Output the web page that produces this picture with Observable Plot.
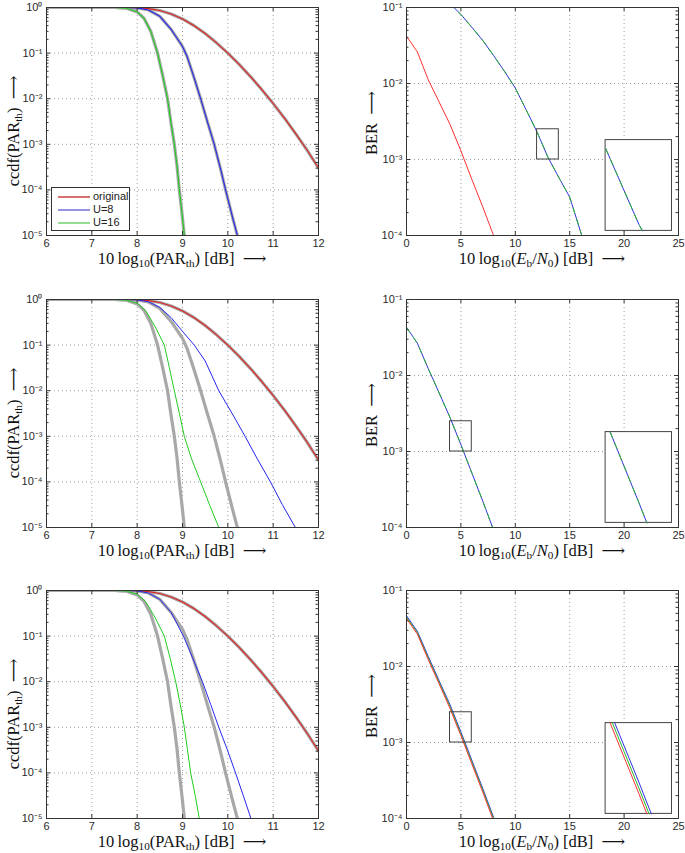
<!DOCTYPE html>
<html><head><meta charset="utf-8">
<script src="https://cdn.jsdelivr.net/npm/d3@7"></script>
<script src="https://cdn.jsdelivr.net/npm/@observablehq/plot@0.6"></script>
<style>
body{margin:0;background:#fff;}
#root{position:relative;width:685px;height:853px;overflow:hidden;background:#fff;}
.panel{position:absolute;}
.lbl{position:absolute;font-family:"Liberation Serif","DejaVu Serif",serif;font-size:16.5px;color:#111;white-space:nowrap;line-height:1;}
.xl{transform:translate(-50%,-50%);}
.yl{transform:translate(-50%,-50%) rotate(-90deg);}
.lbl sub{font-size:68%;vertical-align:-0.25em;line-height:0;}
.legend{position:absolute;background:#fff;border:1px solid #333;font-family:"Liberation Sans",Arial,sans-serif;font-size:11px;color:#222;}
.legend .sw{position:absolute;height:2px;width:32px;}
.legend .tx{position:absolute;line-height:1;}
</style>
</head><body><div id="root"></div>
<script>
// ---------- tick values / labels ----------
const xTicksL = [6, 7, 8, 9, 10, 11, 12];
const yTicksL = [1, 1e-1, 1e-2, 1e-3, 1e-4, 1e-5];
const yLabelsL = ["10⁰", "10⁻¹", "10⁻²", "10⁻³", "10⁻⁴", "10⁻⁵"];
const xTicksR = [0, 5, 10, 15, 20, 25];
const yTicksR = [1e-1, 1e-2, 1e-3, 1e-4];
const yLabelsR = ["10⁻¹", "10⁻²", "10⁻³", "10⁻⁴"];
const legendNames = ["original", "U=8", "U=16"];

// ---------- ccdf curves (left column) ----------
const origX = [6, 6.5, 7, 7.5, 7.75, 8, 8.25, 8.5, 8.75, 9, 9.25, 9.5, 9.75, 10, 10.25, 10.5, 10.75, 11, 11.25, 11.5, 11.75, 12];
const origY = [1, 1, 1, 0.9998, 0.9975, 0.985, 0.946, 0.859, 0.723, 0.562, 0.403, 0.269, 0.168, 0.100, 0.0568, 0.0306, 0.0158, 0.00786, 0.00374, 0.00169, 0.00074, 0.000303];

const u8X = [6, 7, 7.5, 7.75, 8, 8.25, 8.5, 8.75, 9, 9.1, 9.25, 9.4, 9.55, 9.7, 9.85, 9.95, 10.1, 10.21, 10.3];
const u8Y = [1, 1, 1, 0.998, 0.98, 0.88, 0.64, 0.33, 0.14, 0.085, 0.03, 0.01, 0.0031, 0.001, 0.00026, 0.0001, 2.6e-5, 1e-5, 4e-6];

const u16X = [6, 7, 7.5, 7.75, 8, 8.15, 8.3, 8.45, 8.56, 8.67, 8.75, 8.82, 8.88, 8.93, 8.99, 9.04, 9.08];
const u16Y = [1, 1, 0.999, 0.97, 0.8, 0.58, 0.3, 0.1, 0.033, 0.01, 0.0028, 0.001, 0.00033, 0.0001, 3e-5, 1e-5, 4e-6];

const mid16X = [6, 7, 7.5, 7.75, 8, 8.2, 8.4, 8.6, 8.71, 8.82, 8.93, 9.04, 9.2, 9.4, 9.6, 9.8, 9.9];
const mid16Y = [1, 1, 0.999, 0.975, 0.83, 0.55, 0.25, 0.1, 0.032, 0.01, 0.0032, 0.001, 0.00032, 0.0001, 3.1e-5, 1e-5, 5.5e-6];

const mid8X = [6, 7, 7.5, 7.75, 8, 8.25, 8.5, 8.75, 9, 9.26, 9.5, 9.8, 10.1, 10.38, 10.65, 10.94, 11.2, 11.49, 11.6];
const mid8Y = [1, 1, 1, 0.998, 0.98, 0.89, 0.67, 0.4, 0.2, 0.1, 0.045, 0.01, 0.0031, 0.001, 0.00032, 0.0001, 3.2e-5, 1e-5, 6e-6];

const bot16X = [6, 7, 7.5, 7.75, 8, 8.2, 8.4, 8.6, 8.73, 8.85, 8.95, 9.04, 9.11, 9.18, 9.28, 9.37, 9.42];
const bot16Y = [1, 1, 0.999, 0.975, 0.83, 0.55, 0.25, 0.1, 0.032, 0.01, 0.0032, 0.001, 0.00032, 0.0001, 3.2e-5, 1e-5, 5e-6];

const bot8X = [6, 7, 7.5, 7.75, 8, 8.25, 8.5, 8.75, 9.02, 9.23, 9.44, 9.62, 9.8, 9.99, 10.17, 10.34, 10.51, 10.6];
const bot8Y = [1, 1, 1, 0.998, 0.98, 0.88, 0.64, 0.33, 0.1, 0.032, 0.01, 0.0032, 0.001, 0.00032, 0.0001, 3.2e-5, 1e-5, 5e-6];

// ---------- BER curves (right column) ----------
const berX = [0, 1, 2, 3, 4, 5, 6, 7, 8];
const berTopRed = [0.042, 0.026, 0.0112, 0.0057, 0.0029, 0.0013, 0.00055, 0.00024, 0.0001];
const berTopX = [4, 5, 6, 7, 8, 9, 10, 11, 12, 13, 14, 15, 16, 17];
const berTopClip = [0.112, 0.081, 0.055, 0.037, 0.0234, 0.0145, 0.0087, 0.0045, 0.0023, 0.00107, 0.00058, 0.00032, 0.000112, 0.00004];
const berMid = [0.043, 0.0266, 0.0123, 0.0059, 0.0028, 0.00123, 0.000525, 0.000224, 0.000093];
const berBotRed = [0.043, 0.0266, 0.0123, 0.0059, 0.0028, 0.00123, 0.000525, 0.000224, 0.000093];
const berBotGreen = [0.0447, 0.0278, 0.0129, 0.0062, 0.00297, 0.0013, 0.000556, 0.000237, 0.000099];
const berBotBlue = [0.0465, 0.029, 0.0136, 0.0065, 0.00314, 0.00138, 0.000588, 0.00025, 0.000104];

// zoom regions (data bounds) and inset box (data bounds)
const zoomBoxTop = {x1: 12, x2: 14, y1: 1e-3, y2: 2.5e-3};
const zoomBoxMid = {x1: 4, x2: 6, y1: 1e-3, y2: 2.5e-3};
const insetBox = {x1: 18.3, x2: 24.4, y1: 1.15e-4, y2: 1.8e-3};

// ---------- styling ----------
const C = {red: "#dd2222", blue: "#2626ee", green: "#22cc22", gray: "#a8a8a8",
           rRed: "#ff3030", rBlue: "#3030e8", rGreen: "#28b828"};
const PW = 272, PH = 228;
const svgTops = [0, 292, 583];

const pts = (xs, ys) => xs.map((x, i) => ({x, y: ys[i]}));

function minorTicks(domain) {
  return d3.scaleLog().domain(domain).ticks().filter(v => Math.abs(Math.log10(v) - Math.round(Math.log10(v))) > 1e-6);
}

function gridAndTicks(xTicks, yMajor, yDomain) {
  const g = {stroke: "#9c9c9c", strokeDasharray: "1,3", strokeWidth: 1};
  const t = {stroke: "#333", strokeWidth: 1};
  const yMinor = minorTicks(yDomain);
  return {
    grid: [
      Plot.ruleX(xTicks.slice(1, -1), {x: d => d, ...g}),
      Plot.ruleY(yMajor.filter(v => v !== yDomain[0] && v !== yDomain[1]), {y: d => d, ...g})
    ],
    ticks: [
      Plot.ruleX(xTicks, {x: d => d, insetTop: PH - 4, ...t}),
      Plot.ruleX(xTicks, {x: d => d, insetBottom: PH - 4, ...t}),
      Plot.ruleY(yMajor, {y: d => d, insetRight: PW - 4, ...t}),
      Plot.ruleY(yMajor, {y: d => d, insetLeft: PW - 4, ...t}),
      Plot.ruleY(yMinor, {y: d => d, insetRight: PW - 2.5, ...t}),
      Plot.ruleY(yMinor, {y: d => d, insetLeft: PW - 2.5, ...t})
    ]
  };
}

const baseStyle = {fontFamily: "'Liberation Sans', Arial, sans-serif", fontSize: "11px", color: "#2a2a2a", background: "transparent", overflow: "visible"};

function lineMarks(lines) {
  return lines.map(l => Plot.line(l.data, {x: "x", y: "y", stroke: l.c, strokeWidth: l.w, strokeDasharray: l.dash, clip: true}));
}

function leftPanel(lines) {
  const yDomain = [1e-5, 1];
  const gt = gridAndTicks(xTicksL, yTicksL, yDomain);
  return Plot.plot({
    width: 340, height: 292, marginTop: 7, marginBottom: 57, marginLeft: 46, marginRight: 22,
    style: baseStyle,
    x: {domain: [6, 12], ticks: xTicksL, tickSize: 0, tickPadding: 4, label: null, tickFormat: d => String(d)},
    y: {type: "log", domain: yDomain, ticks: yTicksL, tickSize: 0, tickPadding: 4, label: null,
        tickFormat: d => yLabelsL[yTicksL.indexOf(d)]},
    marks: [...gt.grid, ...lineMarks(lines), Plot.frame({stroke: "#333"}), ...gt.ticks]
  });
}

// clip a curve to a zoom region and map it into the inset box (x linear, y log)
function insetCurve(data, small, big) {
  const L = Math.log10;
  const p = data.map(d => [(d.x - small.x1) / (small.x2 - small.x1), (L(d.y) - L(small.y1)) / (L(small.y2) - L(small.y1))]);
  const out = [];
  for (let i = 0; i < p.length - 1; i++) {
    const [x0, y0] = p[i], [x1, y1] = p[i + 1];
    const dx = x1 - x0, dy = y1 - y0;
    let t0 = 0, t1 = 1, ok = true;
    const P = [-dx, dx, -dy, dy], Q = [x0, 1 - x0, y0, 1 - y0];
    for (let k = 0; k < 4; k++) {
      if (P[k] === 0) { if (Q[k] < 0) { ok = false; break; } }
      else {
        const r = Q[k] / P[k];
        if (P[k] < 0) { if (r > t1) { ok = false; break; } if (r > t0) t0 = r; }
        else { if (r < t0) { ok = false; break; } if (r < t1) t1 = r; }
      }
    }
    if (!ok) continue;
    out.push([x0 + t0 * dx, y0 + t0 * dy], [x0 + t1 * dx, y0 + t1 * dy]);
  }
  return out.map(([u, v]) => ({x: big.x1 + u * (big.x2 - big.x1), y: Math.pow(10, L(big.y1) + v * (L(big.y2) - L(big.y1)))}));
}

function rightPanel(lines, zoomBox) {
  const yDomain = [1e-4, 1e-1];
  const gt = gridAndTicks(xTicksR, yTicksR, yDomain);
  const insetLines = lines.filter(l => l.inset !== false).map(l => ({...l, data: insetCurve(l.data, zoomBox, insetBox)}));
  return Plot.plot({
    width: 345, height: 292, marginTop: 7, marginBottom: 57, marginLeft: 66, marginRight: 7,
    style: baseStyle,
    x: {domain: [0, 25], ticks: xTicksR, tickSize: 0, tickPadding: 4, label: null, tickFormat: d => String(d)},
    y: {type: "log", domain: yDomain, ticks: yTicksR, tickSize: 0, tickPadding: 4, label: null,
        tickFormat: d => yLabelsR[yTicksR.indexOf(d)]},
    marks: [
      ...gt.grid,
      ...lineMarks(lines),
      Plot.rect([zoomBox], {x1: "x1", x2: "x2", y1: "y1", y2: "y2", fill: "none", stroke: "#444", strokeWidth: 1}),
      Plot.rect([insetBox], {x1: "x1", x2: "x2", y1: "y1", y2: "y2", fill: "#fff", stroke: "#444", strokeWidth: 1}),
      ...lineMarks(insetLines),
      Plot.frame({stroke: "#333"}),
      ...gt.ticks
    ]
  });
}

const root = document.getElementById("root");
function place(node, left, top) {
  const d = document.createElement("div");
  d.className = "panel"; d.style.left = left + "px"; d.style.top = top + "px";
  d.appendChild(node); root.appendChild(d);
}
function label(html, cls, cx, cy) {
  const d = document.createElement("div");
  d.className = "lbl " + cls; d.innerHTML = html;
  d.style.left = cx + "px"; d.style.top = cy + "px";
  root.appendChild(d);
}

const gray = (x, y) => ({data: pts(x, y), c: C.gray, w: 3.2});

// Row 1
place(leftPanel([
  gray(origX, origY), gray(u8X, u8Y), gray(u16X, u16Y),
  {data: pts(origX, origY), c: C.red, w: 1.1},
  {data: pts(u8X, u8Y), c: C.blue, w: 1.1},
  {data: pts(u16X, u16Y), c: C.green, w: 1.1}
]), 0, svgTops[0]);
place(rightPanel([
  {data: pts(berX, berTopRed), c: C.rRed, w: 1, inset: false},
  {data: pts(berTopX, berTopClip), c: C.rBlue, w: 1},
  {data: pts(berTopX, berTopClip), c: C.rGreen, w: 1, dash: "6,6"}
], zoomBoxTop), 340, svgTops[0]);

// Row 2
place(leftPanel([
  gray(origX, origY), gray(u8X, u8Y), gray(u16X, u16Y),
  {data: pts(origX, origY), c: C.red, w: 1.1},
  {data: pts(mid8X, mid8Y), c: C.blue, w: 1},
  {data: pts(mid16X, mid16Y), c: C.green, w: 1}
]), 0, svgTops[1]);
place(rightPanel([
  {data: pts(berX, berMid), c: C.rBlue, w: 1},
  {data: pts(berX, berMid), c: C.rGreen, w: 1, dash: "6,6"}
], zoomBoxMid), 340, svgTops[1]);

// Row 3
place(leftPanel([
  gray(origX, origY), gray(u8X, u8Y), gray(u16X, u16Y),
  {data: pts(origX, origY), c: C.red, w: 1.1},
  {data: pts(bot8X, bot8Y), c: C.blue, w: 1},
  {data: pts(bot16X, bot16Y), c: C.green, w: 1}
]), 0, svgTops[2]);
place(rightPanel([
  {data: pts(berX, berBotBlue), c: C.rBlue, w: 1},
  {data: pts(berX, berBotGreen), c: C.rGreen, w: 1},
  {data: pts(berX, berBotRed), c: C.rRed, w: 1}
], zoomBoxMid), 340, svgTops[2]);

// Axis labels
for (const S of svgTops) {
  const T = S + 7;
  label("10&#8201;log<sub>10</sub>(PAR<sub>th</sub>) [dB] &nbsp;⟶", "xl", 182, T + 252);
  label("10&#8201;log<sub>10</sub>(<i>E</i><sub>b</sub>/<i>N</i><sub>0</sub>) [dB] &nbsp;⟶", "xl", 542, T + 252);
  label("ccdf(PAR<sub>th</sub>) &nbsp;⟶", "yl", 14, T + 124);
  label("BER &nbsp;⟶", "yl", 372, T + 116);
}

// Legend (row 1, left panel)
const legendColors = ["#d87070", "#9494e6", "#94dd94"];
const lg = document.createElement("div");
lg.className = "legend";
lg.style.left = "51px"; lg.style.top = "187px"; lg.style.width = "77px"; lg.style.height = "42px";
legendNames.forEach((name, i) => {
  const sw = document.createElement("div");
  sw.className = "sw"; sw.style.left = "6px"; sw.style.top = (8 + 13 * i) + "px"; sw.style.background = legendColors[i];
  const tx = document.createElement("div");
  tx.className = "tx"; tx.style.left = "41px"; tx.style.top = (3 + 13 * i) + "px"; tx.textContent = name;
  lg.appendChild(sw); lg.appendChild(tx);
});
root.appendChild(lg);
</script>
</body></html>
